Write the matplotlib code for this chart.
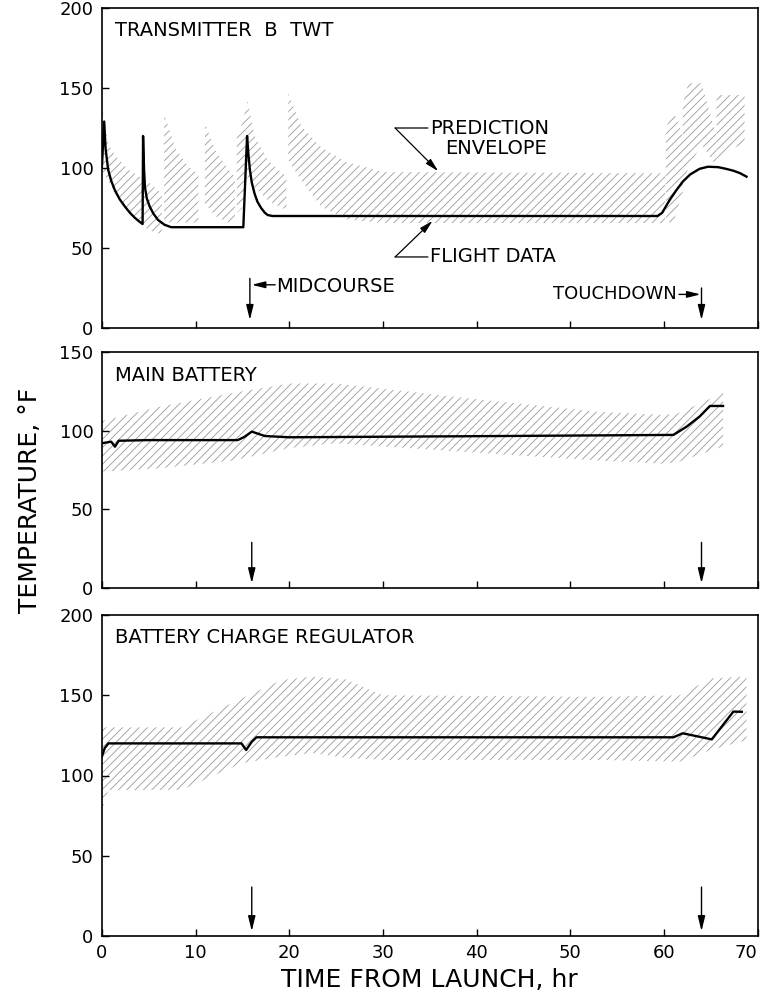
import numpy as np
import matplotlib
matplotlib.use('Agg')
import matplotlib.pyplot as plt
from matplotlib import font_manager

# --- flight data and prediction envelopes ---

# Transmitter B TWT, flight data
twt_time = [0, 0.25, 0.4, 0.67, 1.0, 1.4, 1.9, 2.45, 3.0, 3.5, 4.0, 4.35,
            4.4, 4.5, 4.6, 4.8, 5.1, 5.5, 6.0, 6.7, 7.4,
            15.1, 15.5, 15.65, 15.8, 16.0, 16.3, 16.6, 17.0, 17.4, 17.7, 18.2,
            59.3, 59.8, 60.6, 61.3, 62.0, 62.8, 63.8, 64.7, 65.8, 66.6, 67.4, 68.1, 68.8]
twt_temp = [100, 129, 112, 99, 92, 86, 80.5, 76, 72, 69, 66.5, 65,
            120, 100, 88, 81, 76, 71.5, 67.5, 64.5, 63,
            63, 120, 108, 99, 91, 84, 79, 75, 72, 70.6, 70,
            70, 72, 80, 86, 91.5, 96, 99.5, 100.8, 100.5, 99.5, 98.3, 96.8, 94.6]

# Transmitter B TWT, prediction envelope pieces: (time, upper, lower)
twt_env_a = ([0, 0.67, 1.4, 2.8, 4.2, 5.1, 6.0, 6.4],
             [140, 115, 108, 99, 94, 90.6, 86, 84],
             [99, 92, 84, 74, 64.6, 61, 59, 60])
twt_env_b = ([6.65, 7.8, 9.2, 10.3],
             [134, 113, 101, 96],
             [66, 66, 66, 66])
twt_env_c = ([11.0, 12.1, 13.5, 14.2],
             [128, 111, 99, 94.6],
             [78, 70, 66, 66])
twt_env_d = ([14.4, 15.0, 15.55, 16.3, 17.7, 19.2, 19.7],
             [120, 128, 142, 120, 105, 97, 95],
             [72, 75, 95, 88, 80, 75, 74])
twt_env_e = ([19.9, 21.3, 23.4, 26, 30, 60.1],
             [146.7, 126, 113, 104, 97.5, 96.7],
             [105, 92, 76, 68, 65.6, 65.6])
twt_env_f = ([60.2, 61.0, 62.0],
             [125, 136, 120],
             [66, 66, 85])
twt_env_g = ([62.0, 62.6, 64.0, 65.6],
             [140, 153, 153, 120],
             [90, 100, 115, 101])
twt_env_h = ([65.6, 66.5, 68.6],
             [145.6, 145.6, 145.6],
             [101, 110, 115.6])

# Main battery
bat_time = [0, 1.0, 1.4, 1.8, 5, 14.5, 15.2, 16.0, 16.7, 17.4, 20, 40, 61, 62.4, 63.8, 64.9, 66.3]
bat_temp = [92, 93, 89.8, 93.6, 94, 94, 96, 99.4, 98, 96.6, 95.8, 96.5, 97.3, 102.5, 109, 115.7, 115.7]
bat_env_time = [0, 6, 14, 20, 25, 40, 53, 60, 61.5, 66.3]
bat_env_upper = [106, 115, 124, 130, 130, 120, 112, 110, 111, 124]
bat_env_lower = [74, 76, 81, 89, 92, 86, 81, 79, 80, 90]

# Battery charge regulator
bcr_time = [0, 0.3, 0.7, 14.9, 15.4, 16.0, 16.5, 30, 61, 62.0, 65.1, 67.4, 68.3]
bcr_temp = [111.7, 117, 120, 120, 115.9, 121, 123.8, 123.8, 123.8, 126.3, 122.5, 139.8, 139.7]
bcr_env_time = [0, 0.7, 8.5, 14.9, 19.2, 22.4, 26, 30, 53, 61.7, 65, 68.8]
bcr_env_upper = [130, 130, 130, 148, 159.5, 161.6, 160, 150, 149, 150, 160.5, 161.7]
bcr_env_lower = [78, 91, 91, 107.7, 111.7, 114, 111, 109.7, 109.7, 108.6, 115.9, 122]

names = {f.name for f in font_manager.fontManager.ttflist}
FONT = 'Liberation Sans Narrow' if 'Liberation Sans Narrow' in names else 'DejaVu Sans'
plt.rcParams['font.family'] = [FONT, 'DejaVu Sans']
plt.rcParams['hatch.linewidth'] = 0.6

HATCH_COLOR = '#9a9a9a'
LINE_W = 1.7
TXT = 14


def envelope(ax, t, hi, lo):
    ax.fill_between(t, lo, hi, facecolor='none', edgecolor=HATCH_COLOR,
                    hatch='////', linewidth=0)


def style(ax, ymax, show_x):
    ax.set_xlim(0, 70)
    ax.set_ylim(0, ymax)
    ax.set_xticks(range(0, 71, 10))
    ax.set_yticks(range(0, ymax + 1, 50))
    ax.tick_params(direction='in', length=5, width=1, labelsize=13, pad=6,
                   labelbottom=show_x)
    for s in ax.spines.values():
        s.set_linewidth(1.2)


def down_arrow(ax, x, y0, y1):
    ax.annotate('', xy=(x, y1), xytext=(x, y0),
                arrowprops=dict(arrowstyle='-|>,head_length=0.9,head_width=0.22',
                                color='black', lw=1, shrinkA=0, shrinkB=0))


fig = plt.figure(figsize=(7.6, 10), dpi=100)
left, width = 0.134, 0.863

# top panel
ax1 = fig.add_axes([left, 0.672, width, 0.320])
for t, hi, lo in [twt_env_a, twt_env_b, twt_env_c, twt_env_d,
                  twt_env_e, twt_env_f, twt_env_g, twt_env_h]:
    envelope(ax1, t, hi, lo)
ax1.plot(twt_time, twt_temp, color='black', lw=LINE_W)
style(ax1, 200, False)
ax1.text(1.4, 186, 'TRANSMITTER  B  TWT', fontsize=TXT, va='center')

# prediction / flight data callouts
ax1.annotate('', xy=(34.8, 125), xytext=(31.3, 125),
             arrowprops=dict(arrowstyle='-', color='black', lw=0.9, shrinkA=0, shrinkB=0))
ax1.annotate('', xy=(35.9, 98), xytext=(31.3, 125),
             arrowprops=dict(arrowstyle='-|>,head_length=0.8,head_width=0.2',
                             color='black', lw=0.9, shrinkA=0, shrinkB=0))
ax1.text(35.0, 125, 'PREDICTION', fontsize=TXT, va='center')
ax1.text(36.6, 112.5, 'ENVELOPE', fontsize=TXT, va='center')
ax1.annotate('', xy=(34.8, 44.4), xytext=(31.3, 44.4),
             arrowprops=dict(arrowstyle='-', color='black', lw=0.9, shrinkA=0, shrinkB=0))
ax1.annotate('', xy=(35.3, 67), xytext=(31.3, 44.4),
             arrowprops=dict(arrowstyle='-|>,head_length=0.8,head_width=0.2',
                             color='black', lw=0.9, shrinkA=0, shrinkB=0))
ax1.text(35.0, 44.4, 'FLIGHT DATA', fontsize=TXT, va='center')

# midcourse / touchdown markers
down_arrow(ax1, 15.8, 31, 5)
ax1.annotate('', xy=(16.0, 27), xytext=(18.5, 27),
             arrowprops=dict(arrowstyle='-|>,head_length=0.8,head_width=0.2',
                             color='black', lw=1, shrinkA=0, shrinkB=0))
ax1.text(18.6, 26, 'MIDCOURSE', fontsize=TXT, va='center')
down_arrow(ax1, 64.0, 25, 5)
ax1.annotate('', xy=(63.9, 21), xytext=(61.6, 21),
             arrowprops=dict(arrowstyle='-|>,head_length=0.8,head_width=0.2',
                             color='black', lw=1, shrinkA=0, shrinkB=0))
ax1.text(61.4, 21, 'TOUCHDOWN', fontsize=13, va='center', ha='right')

# middle panel
ax2 = fig.add_axes([left, 0.412, width, 0.236])
envelope(ax2, bat_env_time, bat_env_upper, bat_env_lower)
ax2.plot(bat_time, bat_temp, color='black', lw=LINE_W)
style(ax2, 150, False)
ax2.text(1.4, 135, 'MAIN BATTERY', fontsize=TXT, va='center')
down_arrow(ax2, 16.0, 29, 3)
down_arrow(ax2, 64.0, 29, 3)

# bottom panel
ax3 = fig.add_axes([left, 0.064, width, 0.321])
envelope(ax3, bcr_env_time, bcr_env_upper, bcr_env_lower)
ax3.plot(bcr_time, bcr_temp, color='black', lw=LINE_W)
style(ax3, 200, True)
ax3.text(1.4, 186, 'BATTERY CHARGE REGULATOR', fontsize=TXT, va='center')
down_arrow(ax3, 16.0, 30.5, 3)
down_arrow(ax3, 64.0, 30.5, 3)
ax3.set_xlabel('TIME FROM LAUNCH, hr', fontsize=18, labelpad=4)
ax3.get_xticklabels()[-1].set_ha('right')

fig.text(0.04, 0.5, 'TEMPERATURE, °F', rotation=90, fontsize=18,
         va='center', ha='center')

fig.savefig('out.png', dpi=100)
